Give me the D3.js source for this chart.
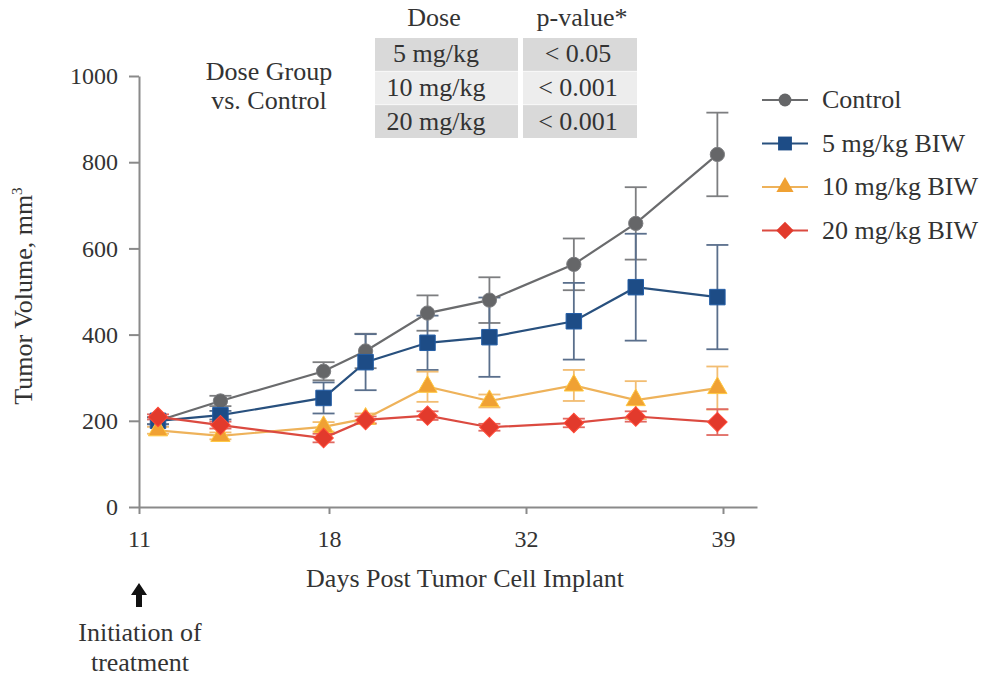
<!DOCTYPE html>
<html>
<head>
<meta charset="utf-8">
<script src="https://cdn.jsdelivr.net/npm/d3@7"></script>
<style>
  body { margin: 0; background: #fff; }
  svg text { font-family: "Liberation Serif", "DejaVu Serif", serif; fill: #333; }
</style>
</head>
<body>
<svg id="chart" width="983" height="677"></svg>
<script>
// days at which tumours were measured
var days = [11.7, 14, 17.8, 20.6, 25, 29.4, 33.7, 35.9, 38.8];
var dayTicks = [11, 18, 32, 39];
var volTicks = [0, 200, 400, 600, 800, 1000];

var control    = [200, 246, 315, 362, 450, 480, 563, 658, 818];
var controlErr = [8, 12, 21, 40, 41, 53, 60, 84, 97];
var dose5      = [200, 213, 253, 336, 381, 394, 431, 510, 487];
var dose5Err   = [8, 10, 36, 65, 63, 92, 89, 124, 121];
var dose10     = [178, 165, 186, 205, 279, 246, 282, 248, 276];
var dose10Err  = [8, 8, 11, 12, 35, 15, 36, 44, 50];
var dose20     = [209, 190, 160, 202, 212, 185, 195, 210, 197];
var dose20Err  = [6, 8, 10, 8, 10, 8, 10, 12, 30];

var seriesNames = ["Control", "5 mg/kg BIW", "10 mg/kg BIW", "20 mg/kg BIW"];
var tableDose = ["5 mg/kg", "10 mg/kg", "20 mg/kg"];
var tablePval = ["< 0.05", "< 0.001", "< 0.001"];

var series = [
  {name: seriesNames[0], vals: control, err: controlErr, color: "#656668", line: "#6a6b6d", bar: "#7d7e80", sym: d3.symbolCircle, size: 160, rot: 0},
  {name: seriesNames[1], vals: dose5, err: dose5Err, color: "#1d4c86", line: "#28507e", bar: "#5a6f8c", sym: d3.symbolSquare, size: 240, rot: 0},
  {name: seriesNames[2], vals: dose10, err: dose10Err, color: "#f0a133", line: "#eeb25a", bar: "#f2bd72", sym: d3.symbolTriangle, size: 160, rot: 0},
  {name: seriesNames[3], vals: dose20, err: dose20Err, color: "#e23a2c", line: "#db4a40", bar: "#e06a62", sym: d3.symbolSquare, size: 190, rot: 45}
];

var FS = 26;   // label font size
var svg = d3.select("#chart");

// x axis is not evenly spaced in the original, so a piecewise scale
var x = d3.scaleLinear()
  .domain([11, 18, 32, 39, 40.2])
  .range([139, 329, 526, 723, 757]);

var y = d3.scaleLinear()
  .domain([0, 1000])
  .range([507, 76]);

var xAxis = svg.append("g")
  .attr("transform", "translate(0,507)")
  .call(d3.axisBottom(x).tickValues(dayTicks).tickSize(7).tickSizeOuter(0).tickPadding(14));

var yAxis = svg.append("g")
  .attr("transform", "translate(139,0)")
  .call(d3.axisLeft(y).tickValues(volTicks).tickFormat(d3.format("d"))
    .tickSize(10).tickSizeOuter(0).tickPadding(11));

[xAxis, yAxis].forEach(function(g){
  g.attr("font-family", null).attr("font-size", null);
  g.selectAll("path, line").attr("stroke", "#8a8a8a").attr("stroke-width", 2);
  g.selectAll("text").attr("font-size", 24).attr("fill", "#333");
});
xAxis.selectAll("text").attr("dy", "0.8em");

// axis titles
svg.append("text")
  .attr("x", 465).attr("y", 587)
  .attr("text-anchor", "middle")
  .attr("font-size", FS)
  .text("Days Post Tumor Cell Implant");

var yt = svg.append("text")
  .attr("transform", "translate(32,296) rotate(-90)")
  .attr("text-anchor", "middle")
  .attr("font-size", FS);
yt.append("tspan").text("Tumor Volume, mm");
yt.append("tspan").attr("font-size", 15).attr("dy", -10).text("3");

// treatment start arrow
svg.append("path")
  .attr("d", "M139,583 L131,595 L136,595 L136,607 L142,607 L142,595 L147,595 Z")
  .attr("fill", "#111");
svg.append("text").attr("x", 140).attr("y", 641).attr("text-anchor", "middle")
  .attr("font-size", FS).text("Initiation of");
svg.append("text").attr("x", 140).attr("y", 671).attr("text-anchor", "middle")
  .attr("font-size", FS).text("treatment");

// error bars, lines, markers
var plot = svg.append("g");
var capW = 11;

series.forEach(function(s){
  var pts = days.map(function(d, i){ return {d: d, v: s.vals[i], e: s.err[i]}; });
  var eb = plot.append("g").attr("stroke", s.bar).attr("stroke-width", 1.8);
  eb.selectAll(".stem").data(pts).enter().append("line")
    .attr("x1", function(p){ return x(p.d); })
    .attr("x2", function(p){ return x(p.d); })
    .attr("y1", function(p){ return y(p.v - p.e); })
    .attr("y2", function(p){ return y(p.v + p.e); });
  [1, -1].forEach(function(sg){
    eb.selectAll(".cap").data(pts).enter().append("line")
      .attr("x1", function(p){ return x(p.d) - capW; })
      .attr("x2", function(p){ return x(p.d) + capW; })
      .attr("y1", function(p){ return y(p.v + sg * p.e); })
      .attr("y2", function(p){ return y(p.v + sg * p.e); });
  });
});

series.forEach(function(s){
  var pts = days.map(function(d, i){ return {d: d, v: s.vals[i]}; });
  plot.append("path")
    .datum(pts)
    .attr("fill", "none")
    .attr("stroke", s.line)
    .attr("stroke-width", 2.2)
    .attr("d", d3.line().x(function(p){ return x(p.d); }).y(function(p){ return y(p.v); }));
  plot.selectAll(null).data(pts).enter().append("path")
    .attr("d", d3.symbol().type(s.sym).size(s.size))
    .attr("transform", function(p){ return "translate(" + x(p.d) + "," + y(p.v) + ") rotate(" + s.rot + ")"; })
    .attr("fill", s.color)
    .attr("stroke", d3.color(s.color).brighter(0.6))
    .attr("stroke-width", 1);
});

// legend
var legend = svg.append("g").attr("transform", "translate(762,100)");
series.forEach(function(s, i){
  var row = legend.append("g").attr("transform", "translate(0," + (i * 43.5) + ")");
  row.append("line").attr("x1", 0).attr("x2", 46).attr("stroke", s.line).attr("stroke-width", 2.2);
  row.append("path")
    .attr("d", d3.symbol().type(s.sym).size(s.size * 0.8))
    .attr("transform", "translate(23,0) rotate(" + s.rot + ")")
    .attr("fill", s.color);
  row.append("text").attr("x", 60).attr("y", 8).attr("font-size", FS).text(s.name);
});

// p-value table
svg.append("text").attr("x", 269).attr("y", 80).attr("text-anchor", "middle").attr("font-size", FS).text("Dose Group");
svg.append("text").attr("x", 269).attr("y", 109).attr("text-anchor", "middle").attr("font-size", FS).text("vs. Control");

var tbl = svg.append("g");
tbl.append("text").attr("x", 434).attr("y", 26).attr("text-anchor", "middle").attr("font-size", FS).text("Dose");
tbl.append("text").attr("x", 582).attr("y", 26).attr("text-anchor", "middle").attr("font-size", FS).text("p-value*");

var rowY = d3.scaleBand().domain(d3.range(tableDose.length)).range([38, 138]).paddingInner(0.02);
var rowFill = ["#d9d9d9", "#ededed", "#d9d9d9"];
tableDose.forEach(function(d, i){
  tbl.append("rect").attr("x", 375).attr("y", rowY(i)).attr("width", 143).attr("height", rowY.bandwidth()).attr("fill", rowFill[i]);
  tbl.append("rect").attr("x", 523).attr("y", rowY(i)).attr("width", 114).attr("height", rowY.bandwidth()).attr("fill", rowFill[i]);
  tbl.append("text").attr("x", 436).attr("y", rowY(i) + rowY.bandwidth() / 2 + 8)
    .attr("text-anchor", "middle").attr("font-size", FS).text(d);
  tbl.append("text").attr("x", 578).attr("y", rowY(i) + rowY.bandwidth() / 2 + 8)
    .attr("text-anchor", "middle").attr("font-size", FS).text(tablePval[i]);
});
</script>
</body>
</html>
